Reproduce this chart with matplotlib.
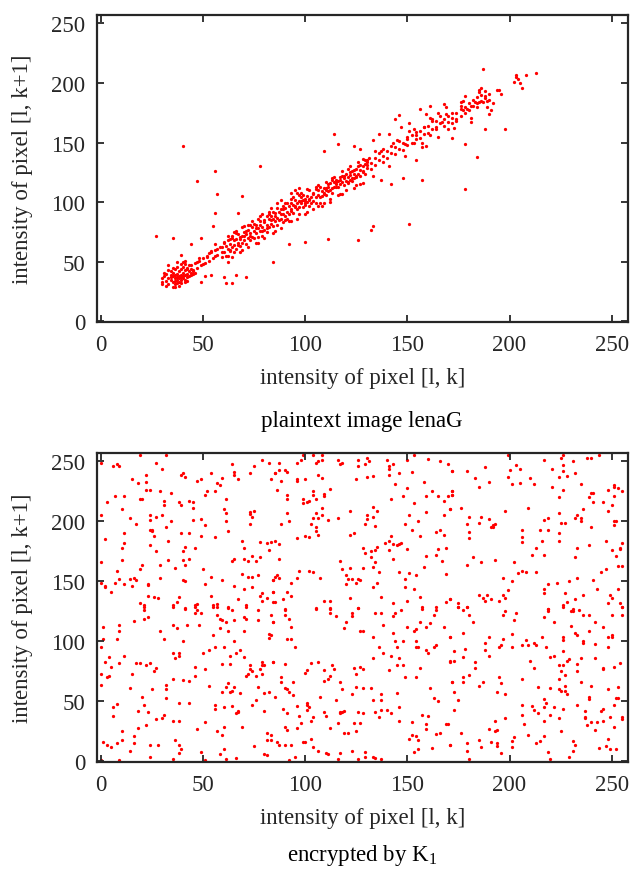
import numpy as np
import matplotlib
matplotlib.use("Agg")
import matplotlib.pyplot as plt

plt.rcParams['font.family'] = ['Liberation Serif', 'DejaVu Serif']
plt.rcParams['mathtext.fontset'] = 'custom'
plt.rcParams['mathtext.rm'] = 'Liberation Serif'
plt.rcParams['mathtext.it'] = 'Liberation Serif:italic'

# ---------------- data: plaintext image lenaG (adjacent pixel pairs) ----------------
plain_blob = [(30,33),(30,36),(31,38),(32,34),(32,40),(33,36),(33,31),(34,37),(34,39),(34,35),(35,38),(35,33),
              (35,41),(36,36),(36,39),(36,29),(36,34),(37,37),(37,40),(37,35),(38,38),(38,36),(38,42),(38,33),
              (39,39),(39,35),(39,44),(39,37),(40,38),(40,41),(40,36),(40,46),(41,39),(41,43),(41,35),(42,40),
              (42,45),(42,37),(43,42),(43,38),(43,47),(44,41),(44,39),(45,43),(44,44),(31,41),(33,43),(35,45),
              (36,31),(37,32),(34,42),(32,30),(38,30),(39,32),(41,33),(42,34),(45,40),(46,41),(30,31),(36,44),
              (37,46),(39,48),(40,50),(41,48)]
plain_outliers = [(40,147),(56,126),(47,118),(78,130),(57,107),(69,105),(27,72),(35,70),(44,65),(49,70),
                  (84,50),(111,69),(126,68),(100,67),(92,65),(61,32),(64,32),(66,39),(71,37),(60,37),(54,39),
                  (51,38),(49,33),(35,29),(56,91),(55,80),(67,91),(187,212),(198,161),(188,161),(178,149),
                  (184,138),(178,111),(151,82),(133,80),(132,77),(157,119),(154,135),(148,120),(142,115),
                  (137,119),(127,115),(114,157),(116,149),(109,143),(124,147)]
plain_band_lo = [(39,56),(41,51),(37,50),(33,47),(47,50),(48,53),(50,48),(52,54),(53,57),(54,59),(56,55),
                 (57,61),(56,65),(59,62),(60,67),(62,55),(62,50),(63,60),(63,69),(64,72),(65,68),(66,74),
                 (67,64),(68,69),(69,79),(70,72),(71,76),(72,81),(73,72),(75,82),(76,78),(77,86),(78,81),
                 (79,76),(80,83),(81,78),(82,90),(83,85),(84,92),(85,88),(86,99),(88,90),(89,94),(90,85),
                 (91,99),(93,93),(93,103),(95,97),(96,108),(97,90),(98,101),(99,106),(100,99),(101,111),
                 (102,103),(104,107),(105,111),(106,97),(107,113),(109,108),(110,112),(111,115),(112,103),
                 (113,120),(115,113),(115,117),(117,121),(118,107),(119,122),(121,117),(122,125),(123,120),
                 (124,127),(125,122),(127,131),(128,125),(130,134),(131,137),(127,145)]
plain_band_hi = [(128,136),(130,131),(134,143),(136,157),(133,152),(138,145),(141,157),(143,150),(144,170),
                 (146,173),(147,163),(149,149),(150,153),(151,166),(151,160),(153,150),(154,156),(156,178),
                 (157,150),(158,163),(159,147),(159,174),(161,181),(161,156),(162,168),(164,163),(165,175),
                 (167,167),(168,182),(169,174),(170,161),(172,154),(172,175),(174,168),(176,181),(176,184),
                 (177,177),(178,189),(179,178),(181,181),(181,167),(183,184),(184,180),(185,192),(185,184),
                 (186,196),(187,184),(188,189),(189,185),(190,174),(191,177),(192,183),(194,194),(195,194),
                 (196,191),(202,201),(203,207),(204,203),(205,200),(206,196),(208,207),(213,208),(203,205)]
plain_band_core = [(60,58),(60,66),(61,63),(61,55),(62,61),(62,68),(63,65),(63,59),(64,70),(64,62),(65,64),
                   (65,58),(66,69),(66,61),(67,66),(67,73),(68,63),(68,71),(69,72),(69,66),(70,68),(70,75),
                   (71,73),(71,65),(72,70),(72,77),(73,74),(73,68),(74,79),(74,71),(75,70),(75,76),(76,74),
                   (76,81),(77,78),(77,71),(78,76),(78,84),(79,79),(79,72),(80,77),(80,85),(81,81),(81,75),
                   (82,86),(82,79),(83,82),(83,88),(84,80),(84,86),(85,84),(85,91),(86,87),(86,81),(87,92),
                   (87,85),(88,86),(88,94),(89,90),(89,83),(90,95),(90,88),(91,92),(91,86),(92,97),(92,90),
                   (93,94),(93,99),(94,91),(94,98),(95,96),(95,102),(96,94),(96,99),(97,101),(97,96),(98,99),
                   (98,104),(99,96),(99,102),(100,98),(100,103),(100,101),(101,100),(101,105),(102,97),
                   (102,102),(103,104),(103,99),(104,101),(104,108),(105,104),(105,99),(106,106),(106,110),
                   (107,104),(107,99),(108,109),(108,105),(109,107),(109,112),(110,106),(110,110),(111,113),
                   (111,109),(112,110),(112,116),(113,112),(113,108),(114,117),(114,113),(115,115),(115,119),
                   (116,113),(116,118),(117,119),(117,115),(118,117),(118,122),(119,120),(119,114),(120,118),
                   (120,124),(121,121),(121,116),(122,123),(122,119),(123,118),(123,126),(124,124),(124,120),
                   (125,128),(125,121),(126,124),(126,130),(127,127),(127,122),(128,130),(128,126),(129,124),
                   (129,132),(130,129),(130,135),(132,133),(132,128),(134,137),(134,131),(136,135),(136,141),
                   (138,139),(138,134),(140,143),(140,137),(142,141),(142,147),(144,146),(144,140),(146,145),
                   (146,151),(148,150),(148,144),(150,148),(150,155),(152,156),(152,150),(154,153),(154,159),
                   (156,160),(156,154),(158,157),(158,163),(160,164),(160,158),(162,161),(162,170),(164,168),
                   (164,161),(166,166),(166,172),(168,170),(168,164),(170,167),(170,172),(172,171),(172,166),
                   (174,175),(174,170),(176,172),(176,178),(178,180),(178,175),(180,183),(180,177),(182,186),
                   (182,181),(184,188),(184,183),(186,190),(186,185),(188,187),(188,193),(190,191),(190,186),
                   (42,44),(44,47),(45,42),(46,49),(47,45),(48,51),(49,47),(50,53),(51,49),(52,55),(53,51),
                   (54,58),(55,53),(56,60),(57,56),(58,62),(59,58),(59,54)]
plain_band_wide = [(62,72),(64,54),(66,76),(68,58),(70,80),(72,62),(74,84),(76,66),(78,88),(80,70),(82,92),
                   (84,74),(86,95),(88,78),(90,99),(92,84),(94,104),(96,86),(98,108),(100,90),(102,110),
                   (104,94),(106,114),(108,97),(110,117),(112,100),(114,121),(116,106),(118,126),(120,110),
                   (122,130),(124,112),(126,134),(128,116),(65,75),(69,60),(73,81),(77,66),(81,88),(85,76),
                   (89,97),(93,84),(97,106),(101,92),(105,113),(109,99),(113,119),(117,107),(121,128),
                   (125,114),(129,135),(133,122),(137,143),(141,130),(145,152),(149,139),(153,161),(157,146),
                   (161,171),(165,155),(169,180),(173,162),(177,185),(181,171),(185,194),(189,180),(93,108),
                   (95,110),(97,112),(88,102),(83,95),(79,90)]

# ---------------- data: encrypted by K1 (adjacent pixel pairs) ----------------
enc_top_left = [(0,249),(19,255),(32,255),(6,246),(8,248),(9,246),(27,249),(30,244),(64,248),(75,246),(79,251),
    (82,249),(85,240),(15,235),(22,239),(18,232),(22,233),(39,239),(40,240),(41,237),(54,240),(47,234),(49,235),
    (59,236),(57,232),(58,230),(65,241),(65,239),(67,235),(73,240),(83,235),(22,226),(24,226),(29,225),(34,224),
    (52,225),(51,222),(56,225),(3,216),(7,221),(11,221),(19,219),(20,219),(10,210),(31,217),(31,214),(38,216),
    (39,214),(43,217),(45,216),(45,211),(61,219),(60,210),(61,207),(73,208),(73,206),(74,204),(75,209),(0,205),
    (14,203),(17,198),(24,205),(24,201),(27,204),(30,205),(34,200),(32,195),(45,201),(49,202),(51,197),(61,200),
    (62,192),(73,198),(24,193),(25,193),(25,192),(26,188),(2,185),(11,190),(10,178),(11,182),(33,184),(39,190),
    (43,190),(49,188),(56,187),(69,184),(78,183),(81,182),(83,183),(24,180),(27,175),(41,179),(40,175),(46,178),
    (70,178),(82,176),(10,168),(0,166),(20,164),(29,164),(33,168),(40,168),(41,164),(43,169),(64,167),(65,169),
    (70,169),(72,167),(74,171),(76,167),(78,170),(36,161),(19,160),(8,159),(50,160),(69,156),(72,154),(74,154),
    (77,155),(0,149),(2,146),(2,145),(7,149),(9,152),(11,148),(14,152),(16,153),(15,146),(17,151),(23,148),
    (23,147),(29,153),(40,151),(41,150),(51,148),(54,154),(59,151),(65,146),(70,144),(74,145),(84,151),(5,141),
    (23,138),(26,137),(28,136),(38,137),(37,133),(35,130),(41,128),(46,130),(47,131),(19,132),(21,130),(54,138),
    (55,130),(57,131),(62,129),(67,135),(71,130),(78,138),(79,140),(81,136),(79,134),(84,141),(84,133)]
enc_top_mid = [(99,255),(98,251),(104,255),(108,255),(108,251),(105,249),(106,250),(96,249),(87,249),(87,243),
    (85,240),(90,243),(91,241),(88,234),(96,235),(96,234),(100,235),(106,239),(108,236),(116,251),(117,248),
    (118,249),(126,251),(126,246),(129,248),(130,253),(131,250),(140,251),(141,246),(143,248),(146,240),(152,241),
    (150,251),(153,255),(160,252),(166,250),(170,248),(172,242),(125,235),(130,237),(133,238),(141,239),(141,244),
    (158,233),(144,231),(150,228),(86,226),(91,222),(91,219),(104,225),(104,222),(105,219),(109,223),(109,221),
    (112,227),(99,219),(102,217),(101,216),(99,215),(108,211),(91,207),(105,207),(104,203),(106,203),(108,205),
    (111,201),(116,203),(122,209),(133,212),(135,209),(130,205),(133,204),(130,202),(129,198),(134,196),(88,198),
    (92,200),(103,198),(105,195),(105,192),(106,189),(100,188),(102,187),(96,186),(85,184),(87,181),(87,169),
    (122,189),(124,190),(128,178),(129,174),(132,175),(132,170),(134,176),(135,179),(134,166),(133,162),(139,182),
    (141,184),(142,188),(141,176),(143,181),(145,180),(146,181),(147,182),(150,177),(143,169),(156,188),(159,171),
    (164,172),(165,177),(167,167),(169,178),(164,191),(166,193),(168,189),(152,193),(149,198),(155,200),(151,205),
    (159,208),(168,205),(171,210),(153,215),(142,219),(148,221),(159,221),(162,225),(165,221),(168,217),(170,221),
    (172,225),(172,222),(117,167),(118,160),(122,161),(128,161),(120,155),(123,152),(121,152),(120,148),(125,149),
    (126,152),(127,151),(133,145),(135,149),(136,158),(137,137),(122,136),(126,128),(112,134),(109,134),(105,128),
    (112,128),(97,159),(102,159),(104,158),(107,153),(96,153),(85,154),(86,155),(87,153),(84,151),(93,149),
    (91,141),(93,138),(84,141),(85,133),(89,135),(90,127),(143,132),(146,158),(149,152),(151,157),(154,155),
    (149,145),(153,144),(156,137),(150,134),(157,129),(164,129),(169,133),(171,135),(169,156),(158,162)]
enc_top_right = [(199,255),(217,251),(225,253),(226,255),(231,250),(238,253),(240,253),(244,255),(172,242),
    (179,242),(188,245),(200,243),(203,247),(205,244),(221,244),(226,247),(226,242),(232,240),(228,238),(224,237),
    (183,236),(190,233),(185,229),(199,237),(201,231),(205,232),(210,236),(212,231),(221,229),(235,231),(226,226),
    (224,220),(239,220),(240,224),(241,224),(241,216),(246,216),(248,226),(251,230),(251,229),(253,228),(255,225),
    (251,221),(250,214),(248,209),(172,225),(172,222),(171,210),(176,211),(198,209),(209,211),(236,210),(224,207),
    (233,205),(232,203),(235,203),(235,200),(219,203),(217,201),(225,199),(227,199),(180,204),(186,204),(179,198),
    (185,199),(190,202),(192,197),(193,198),(191,195),(192,195),(206,193),(215,193),(219,193),(240,195),(251,200),
    (252,200),(251,197),(180,191),(180,186),(206,187),(206,183),(216,184),(224,190),(224,184),(247,184),(239,180),
    (255,182),(254,178),(254,177),(250,176),(233,178),(213,178),(211,172),(217,172),(182,170),(193,168),(179,164),
    (186,166),(202,166),(232,170),(252,171),(253,163),(255,163),(247,160),(245,158),(206,159),(208,158),(204,157),
    (213,158),(197,153),(201,150),(233,153),(241,151),(219,148),(223,149),(217,140),(217,144),(229,150),(227,140),
    (199,143),(197,139),(185,139),(189,139),(187,136),(188,134),(191,135),(195,134),(198,136),(171,135),(175,132),
    (175,129),(179,129),(219,127),(226,130),(228,133),(232,135),(236,139),(243,144),(249,139),(250,136),(253,144),
    (248,132),(254,132),(255,129)]
enc_bot_left = [(21,129),(21,126),(35,129),(41,127),(46,129),(47,126),(46,124),(49,124),(55,129),(57,129),
    (62,128),(64,126),(71,129),(77,126),(83,122),(1,112),(9,114),(9,109),(1,102),(8,102),(16,117),(21,119),
    (23,120),(29,109),(35,114),(37,111),(42,114),(48,114),(57,122),(58,119),(59,118),(61,116),(65,118),(70,120),
    (71,119),(77,118),(84,116),(58,111),(62,109),(70,109),(82,106),(83,105),(82,103),(55,105),(31,102),(40,100),
    (0,95),(11,88),(4,87),(5,79),(2,83),(9,82),(17,82),(19,82),(22,80),(24,82),(27,78),(26,75),(35,90),(38,90),
    (38,88),(36,86),(46,79),(51,77),(50,90),(53,93),(56,95),(60,95),(65,100),(68,93),(66,90),(63,88),(70,87),
    (59,81),(63,81),(73,80),(73,77),(74,75),(79,83),(79,80),(80,80),(78,77),(79,73),(84,83),(72,73),(71,71),
    (76,71),(0,73),(3,70),(4,71),(15,73),(35,69),(40,68),(43,67),(46,71),(32,64),(32,60),(14,61),(25,60),(0,64),
    (53,63),(59,58),(61,62),(62,65),(63,58),(64,59),(65,62),(68,57),(77,62),(80,57),(82,58),(20,54),(32,53),
    (76,51),(74,47),(8,48),(6,45),(6,38),(21,47),(18,42),(23,41),(31,39),(30,36),(27,35),(35,34),(38,34),(43,49),
    (38,49),(51,33),(56,47),(56,44),(60,45),(64,46),(67,42),(66,40),(67,41),(80,42),(22,30),(18,28),(47,27),
    (60,29),(57,25),(59,22),(69,29),(81,24),(83,22),(81,18),(83,18),(10,25),(10,18),(16,21),(16,15),(1,16),
    (3,14),(5,12),(8,15),(14,9),(24,14),(28,14),(36,18),(38,14),(39,10),(38,7),(35,2),(24,4),(9,1),(0,1),(49,8),
    (51,1),(58,6),(60,10),(61,2),(66,3),(75,13),(80,6),(81,5)]
enc_bot_mid = [(90,126),(90,122),(92,119),(93,112),(84,116),(105,127),(112,127),(112,124),(115,121),(123,124),
    (123,121),(126,128),(120,116),(119,111),(127,109),(128,109),(134,124),(137,124),(138,114),(143,121),(144,124),
    (147,126),(157,127),(164,126),(163,122),(161,115),(156,116),(159,112),(154,110),(153,109),(150,112),(143,107),
    (133,104),(91,102),(93,102),(95,95),(84,83),(90,81),(144,100),(148,100),(154,100),(155,95),(154,95),(145,95),
    (136,95),(138,90),(142,88),(146,86),(133,86),(159,93),(160,90),(164,97),(163,95),(168,112),(171,104),
    (171,83),(172,66),(103,82),(106,83),(101,76),(100,74),(113,80),(114,77),(109,76),(112,71),(111,69),(109,67),
    (117,66),(118,60),(124,78),(127,79),(128,77),(125,73),(145,80),(148,80),(141,76),(156,78),(149,70),(154,70),
    (88,70),(88,66),(94,66),(90,61),(91,60),(92,58),(94,55),(85,54),(107,54),(123,56),(125,62),(128,61),(132,61),
    (137,56),(137,51),(133,51),(145,57),(161,61),(163,53),(165,50),(89,44),(91,40),(96,46),(97,38),(101,49),
    (101,47),(102,45),(101,43),(104,37),(103,34),(98,32),(109,41),(110,38),(115,51),(117,41),(118,41),(119,42),
    (117,40),(126,41),(128,40),(127,32),(124,32),(134,41),(136,37),(137,43),(140,43),(142,40),(146,45),(146,34),
    (116,32),(112,28),(119,24),(121,24),(125,25),(152,33),(157,39),(160,38),(159,31),(159,27),(169,31),(170,31),
    (164,23),(166,24),(152,22),(151,19),(154,21),(155,18),(90,29),(91,26),(96,28),(103,19),(86,16),(87,14),
    (90,14),(93,14),(99,16),(100,16),(104,12),(106,9),(110,7),(111,6),(117,7),(123,9),(129,8),(129,4),(126,2),
    (133,4),(134,3),(137,2),(116,2),(95,4),(92,1),(153,8),(155,10),(162,11),(171,14)]
enc_bot_right = [(175,129),(177,126),(179,129),(180,122),(182,116),(177,107),(171,104),(173,92),(171,84),
    (173,84),(177,87),(178,94),(183,83),(183,78),(180,72),(177,70),(177,66),(172,66),(173,58),(175,51),(173,43),
    (185,63),(187,66),(188,99),(188,93),(190,104),(190,88),(195,95),(196,97),(197,102),(198,125),(197,122),
    (203,124),(202,118),(201,106),(201,95),(206,97),(208,101),(209,97),(212,99),(213,97),(216,104),(218,95),
    (210,84),(212,78),(206,69),(195,70),(196,65),(194,58),(198,56),(214,62),(220,87),(222,88),(220,61),(219,125),
    (219,127),(217,120),(222,116),(226,129),(230,125),(231,127),(231,125),(234,126),(236,122),(239,122),(230,113),
    (232,107),(233,105),(239,109),(242,116),(246,112),(248,104),(250,105),(250,104),(250,122),(255,129),(255,122),
    (236,100),(236,99),(242,98),(248,95),(226,104),(226,101),(226,92),(228,84),(229,85),(235,86),(242,86),
    (233,81),(233,75),(224,80),(226,80),(225,75),(227,72),(246,78),(246,77),(251,79),(254,82),(224,69),(235,66),
    (240,63),(227,63),(224,60),(225,59),(227,59),(228,56),(248,60),(253,62),(252,53),(253,53),(239,54),(239,52),
    (233,47),(226,44),(217,52),(218,49),(217,45),(222,45),(220,39),(224,36),(214,40),(212,43),(211,46),(206,47),
    (206,39),(207,31),(217,34),(237,42),(237,37),(237,36),(240,33),(243,33),(246,34),(245,42),(246,44),(249,37),
    (251,47),(255,37),(255,35),(238,30),(242,26),(251,29),(225,25),(209,22),(217,21),(215,17),(213,15),(202,20),
    (201,17),(201,12),(194,15),(194,13),(191,16),(185,18),(186,12),(193,25),(194,26),(190,27),(193,34),(198,36),
    (176,24),(179,15),(179,9),(180,2),(171,14),(196,7),(219,8),(220,2),(229,4),(231,9),(231,17),(232,14),
    (244,11),(247,13),(249,10),(252,10),(248,19)]

ticks = [0, 50, 100, 150, 200, 250]
xlabel = 'intensity of pixel [l, k]'
ylabel = 'intensity of pixel [l, k+1]'
captions = ['plaintext image lenaG', 'encrypted by K$_1$']

plain = np.array(plain_blob + plain_outliers + plain_band_lo + plain_band_hi + plain_band_core + plain_band_wide)
enc = np.array(enc_top_left + enc_top_mid + enc_top_right + enc_bot_left + enc_bot_mid + enc_bot_right)

W, H = 631, 870
fig = plt.figure(figsize=(W / 100, H / 100), dpi=100)
tc = '#262626'
fs = 16.5

def px_rect(l, t, r, b):
    return [l / W, 1 - b / H, (r - l) / W, (b - t) / H]

axes = [fig.add_axes(px_rect(97, 16, 628, 323)), fig.add_axes(px_rect(97, 454, 628, 763))]
datasets = [plain, enc]
for ax, d in zip(axes, datasets):
    ax.scatter(d[:, 0], d[:, 1], s=5.5, c='#ff0000', marker='o', linewidths=0)
    ax.set_xlim(-2, 258)
    ax.set_ylim(-0.5, 257)
    ax.set_xticks(ticks)
    ax.set_yticks(ticks)
    ax.tick_params(direction='in', length=5, width=1.3, top=True, right=True,
                   labelsize=fs, colors=tc, pad=8.5)
    for sp in ax.spines.values():
        sp.set_linewidth(1.6)
        sp.set_color(tc)
    ax.set_xlabel(xlabel, fontsize=fs, color=tc, labelpad=9)
    ax.set_ylabel(ylabel, fontsize=fs, color=tc, labelpad=13)

fig.text(362 / W, 1 - 422 / H, captions[0], ha='center', va='center', fontsize=fs, color='black')
fig.text(362 / W, 1 - 856 / H, captions[1], ha='center', va='center', fontsize=fs, color='black')

fig.savefig('out.png', dpi=100)
